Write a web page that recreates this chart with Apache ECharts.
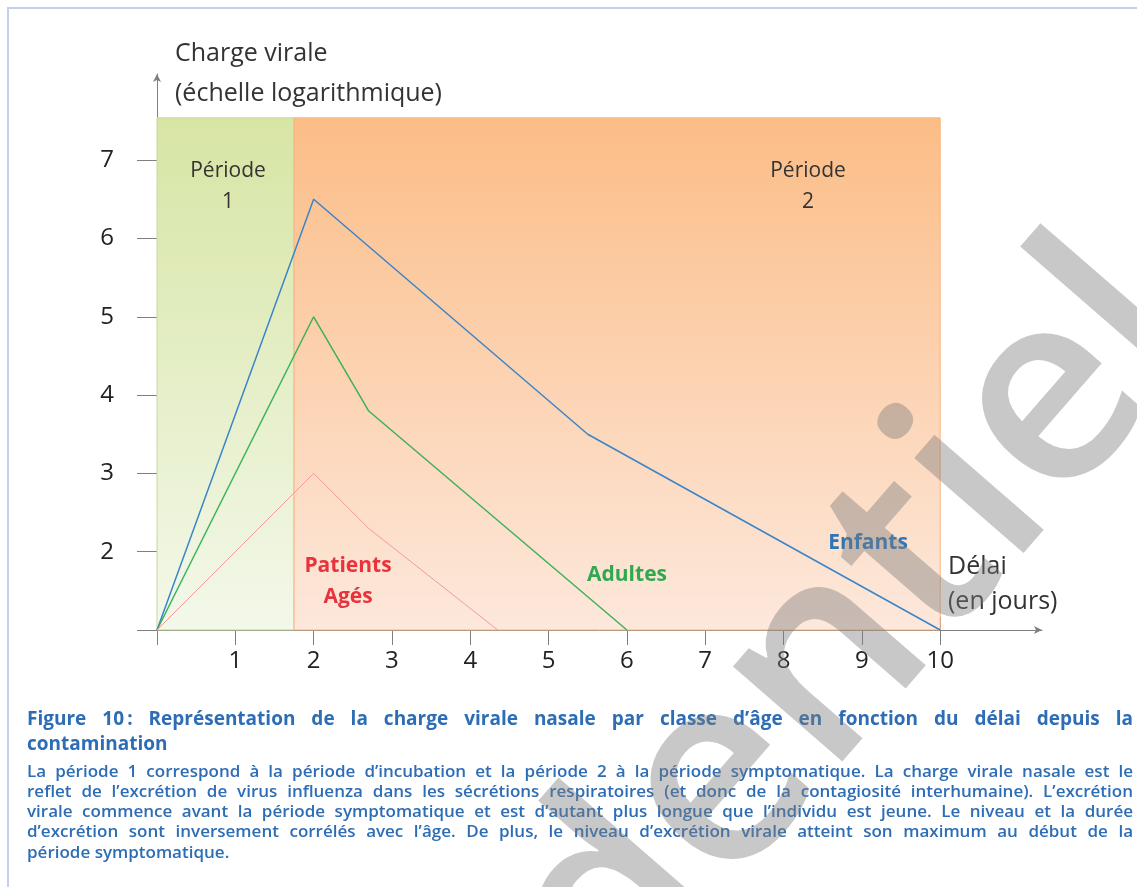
<!DOCTYPE html>
<html>
<head>
<meta charset="utf-8">
<script src="https://cdn.jsdelivr.net/npm/echarts@6/dist/echarts.min.js"></script>
<style>
  html, body { margin: 0; padding: 0; background: #fff; }
  #chart { width: 1137px; height: 887px; }
</style>
</head>
<body>
<div id="chart"></div>
<script>
// data (x = days, y = log viral load, axis starts at 1)
const xTicks = [0, 1, 2, 3, 4, 5, 6, 7, 8, 9, 10]
const yTicks = [1, 2, 3, 4, 5, 6, 7]
const yLabels = [2, 3, 4, 5, 6, 7]

const enfants = [[0, 1], [2, 6.5], [5.5, 3.5], [10, 1]]
const adultes = [[0, 1], [2, 5], [2.7, 3.8], [6, 1]]
const ages = [[0, 1], [2, 3], [2.7, 2.3], [4.35, 1]]

const periodStart = [0, 1.75]
const periodEnd = [1.75, 10]
const periodTop = 7.54

const captionBold = [
  'Figure 10\u2009: Représentation de la charge virale nasale par classe d’âge en fonction du délai depuis la',
  'contamination',
]
const captionText = [
  'La période 1 correspond à la période d’incubation et la période 2 à la période symptomatique. La charge virale nasale est le',
  'reflet de l’excrétion de virus influenza dans les sécrétions respiratoires (et donc de la contagiosité interhumaine). L’excrétion',
  'virale commence avant la période symptomatique et est d’autant plus longue que l’individu est jeune. Le niveau et la durée',
  'd’excrétion sont inversement corrélés avec l’âge. De plus, le niveau d’excrétion virale atteint son maximum au début de la',
  'période symptomatique.',
]

const FONT = '"Open Sans", Lato, sans-serif'
const axisGray = '#7f7f7f'
const capColor = '#2d6db5'

const ctx = document.createElement('canvas').getContext('2d')

// spread words over the line width like the justified caption
function justifyLine(line, y, font, justify) {
  const x0 = 27
  const x1 = 1133
  const words = line.split(' ')
  ctx.font = font
  const widths = words.map((w) => ctx.measureText(w).width)
  const total = widths.reduce((a, b) => a + b, 0)
  const gap = justify && words.length > 1 ? (x1 - x0 - total) / (words.length - 1) : ctx.measureText(' ').width
  let x = x0
  return words.map((w, i) => {
    const el = {
      type: 'text',
      x,
      y,
      style: { text: w, font, fill: capColor, textVerticalAlign: 'middle' },
    }
    x += widths[i] + gap
    return el
  })
}

function label(text, x, y, opts = {}) {
  return {
    type: 'text',
    x,
    y,
    z: 10,
    style: {
      text,
      font: `${opts.weight || 'normal'} ${opts.size || 24}px ${FONT}`,
      fill: opts.color || '#333',
      textAlign: opts.align || 'center',
      textVerticalAlign: 'middle',
    },
  }
}

let graphics = [
  { type: 'rect', shape: { x: 8, y: 8, width: 1300, height: 1000 }, style: { fill: 'none', stroke: '#c3d2ea', lineWidth: 2 } },
  label('Charge virale', 175, 54, { align: 'left', size: 25 }),
  label('(échelle logarithmique)', 175, 94, { align: 'left', size: 25 }),
  label('Période', 228, 171, { size: 21 }),
  label('1', 228, 202, { size: 21 }),
  label('Période', 808, 171, { size: 21 }),
  label('2', 808, 202, { size: 21 }),
  label('Patients', 348, 566, { weight: 'bold', color: '#e8323c', size: 21 }),
  label('Agés', 348, 597, { weight: 'bold', color: '#e8323c', size: 21 }),
  label('Adultes', 627, 575, { weight: 'bold', color: '#2fa84f', size: 21 }),
  label('Enfants', 868, 543, { weight: 'bold', color: '#2e75b6', size: 21 }),
  label('Délai', 948, 567, { align: 'left', size: 25 }),
  label('(en jours)', 948, 602, { align: 'left', size: 25 }),
]

const boldFont = `bold 19px ${FONT}`
const textFont = `600 17px ${FONT}`
graphics = graphics.concat(justifyLine(captionBold[0], 720, boldFont, true))
graphics = graphics.concat(justifyLine(captionBold[1], 745, boldFont, false))
const textY = [772, 792, 812, 832, 853]
captionText.forEach((line, i) => {
  graphics = graphics.concat(justifyLine(line, textY[i], textFont, i < captionText.length - 1))
})

// watermark
graphics.push({
  type: 'text',
  x: 1252,
  y: 378,
  rotation: 49 * Math.PI / 180,
  z: 100,
  style: {
    text: 'Confidentiel',
    font: `600 268px ${FONT}`,
    fill: 'rgba(125,125,125,0.42)',
    textAlign: 'right',
    textVerticalAlign: 'bottom',
  },
})

const grad = (top, bottom) => new echarts.graphic.LinearGradient(0, 0, 0, 1, [
  { offset: 0, color: top },
  { offset: 1, color: bottom },
])
const periodStyles = [
  { color: grad('#d7e5a4', '#f3f8ea'), borderColor: '#c6d99c', borderWidth: 1 },
  { color: grad('#fbbd87', '#fde8dc'), borderColor: '#f9b47c', borderWidth: 1 },
]

const xBase = {
  type: 'value',
  min: 0,
  max: 11.3,
  interval: 1,
  splitLine: { show: false },
}
const yBase = {
  type: 'value',
  min: 1,
  max: 8.1,
  interval: 1,
  position: 'left',
  splitLine: { show: false },
}

const chart = echarts.init(document.getElementById('chart'))
chart.setOption({
  animation: false,
  backgroundColor: '#fff',
  grid: { left: 157, top: 74, right: 95, bottom: 257 },
  xAxis: [
    {
      ...xBase,
      axisLine: { lineStyle: { color: axisGray, width: 1 }, symbol: ['none', 'arrow'], symbolSize: [6, 8] },
      axisTick: { customValues: xTicks, length: 15, lineStyle: { color: axisGray } },
      axisLabel: { customValues: xTicks.slice(1), margin: 19, fontSize: 24, color: '#222', fontFamily: FONT },
    },
    {
      ...xBase,
      position: 'bottom',
      axisLine: { show: false },
      axisTick: { customValues: xTicks, inside: true, length: 13, lineStyle: { color: axisGray } },
      axisLabel: { show: false },
    },
  ],
  yAxis: [
    {
      ...yBase,
      axisLine: { show: true, lineStyle: { color: axisGray, width: 1 }, symbol: ['none', 'arrow'], symbolSize: [6, 8] },
      axisTick: { show: true, customValues: yTicks, length: 20, lineStyle: { color: axisGray } },
      axisLabel: { customValues: yLabels, margin: 43, fontSize: 24, color: '#222', fontFamily: FONT },
    },
    {
      ...yBase,
      axisLine: { show: false },
      axisTick: { show: true, customValues: yTicks, inside: true, length: 20, lineStyle: { color: axisGray } },
      axisLabel: { show: false },
    },
  ],
  graphic: graphics,
  series: [
    {
      type: 'line',
      name: 'périodes',
      data: [],
      markArea: {
        silent: true,
        data: periodStart.map((s, i) => [
          { xAxis: s, yAxis: 1, itemStyle: periodStyles[i] },
          { xAxis: periodEnd[i], yAxis: periodTop },
        ]),
      },
    },
    {
      type: 'line',
      name: 'Enfants',
      data: enfants,
      symbol: 'none',
      lineStyle: { color: '#3a85c9', width: 1.5 },
      z: 5,
    },
    {
      type: 'line',
      name: 'Adultes',
      data: adultes,
      symbol: 'none',
      lineStyle: { color: '#3cb15a', width: 1.5 },
      z: 5,
    },
    {
      type: 'line',
      name: 'Patients Agés',
      data: ages,
      symbol: 'none',
      lineStyle: { color: '#f29a9a', width: 1 },
      z: 5,
    },
  ],
})
</script>
</body>
</html>
